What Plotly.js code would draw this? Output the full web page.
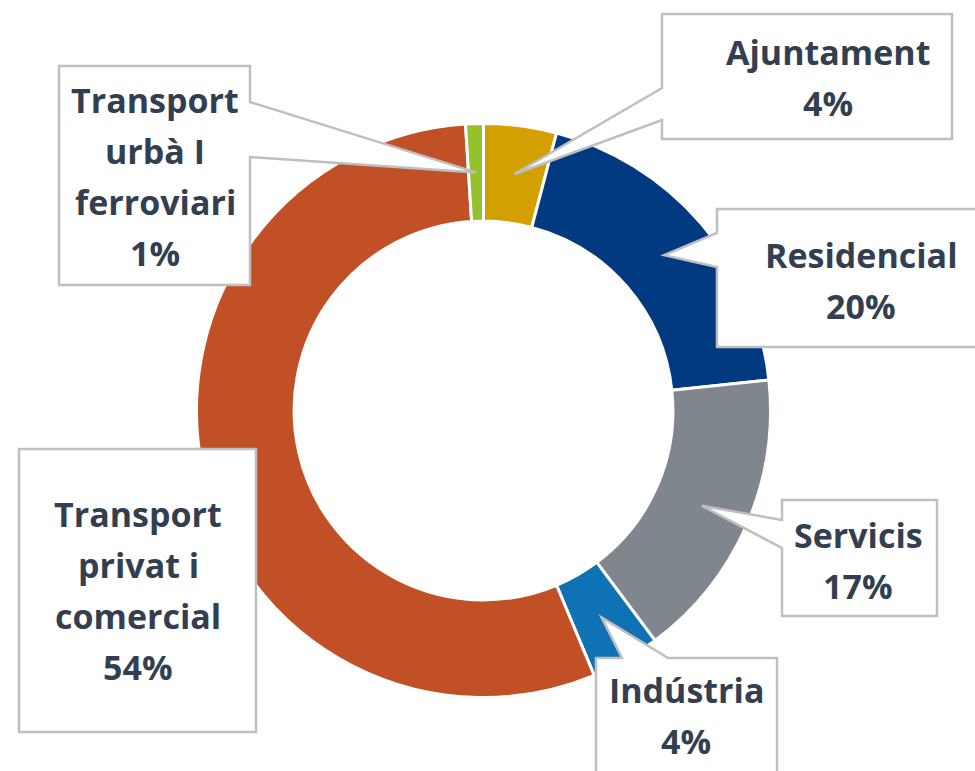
<!DOCTYPE html>
<html>
<head>
<meta charset="utf-8">
<script src="https://cdn.plot.ly/plotly-3.0.1.min.js"></script>
<style>html,body{margin:0;padding:0;background:#fff;}#chart{width:975px;height:771px;}</style>
</head>
<body>
<div id="chart"></div>
<script>
// ---- data ----
const labels = ['Ajuntament', 'Residencial', 'Servicis', 'Indústria', 'Transport privat i comercial', 'Transport urbà I ferroviari'];
const values = [4.1, 19.2, 16.5, 3.9, 55.3, 1.0];
const pctLabels = ['4%', '20%', '17%', '4%', '54%', '1%'];
const labelLines = [['Ajuntament'], ['Residencial'], ['Servicis'], ['Indústria'], ['Transport', 'privat i', 'comercial'], ['Transport', 'urbà I', 'ferroviari']];
const colors = ['#D49F00', '#023A82', '#7F868D', '#0E72B5', '#C25026', '#95C12E'];

// ---- layout geometry (pixels) ----
const W = 975, H = 771;
const cx = 483.5, cy = 410.5, R = 287, hole = 0.66;
// callout boxes: [x0, y0, x1, y1], wedge side and base range, text center x, first line center y
const boxes = [
  {b: [662, 14, 952, 139], side: 'left', base: [88, 120], tx: 828, ty: 52},
  {b: [717, 209, 990, 347], side: 'left', base: [233, 267], tx: 861, ty: 255},
  {b: [782, 500, 937, 616], side: 'left', base: [520, 548], tx: 858, ty: 535},
  {b: [596, 658, 777, 800], side: 'top', base: [622, 668], tx: 686, ty: 690},
  {b: [19, 449, 256, 732], side: 'none', base: null, tx: 138, ty: 514},
  {b: [59, 66, 250, 285], side: 'right', base: [102, 157], tx: 155, ty: 100}
];
const lineGap = 51;

const X = px => px / W;
const Y = py => 1 - py / H;

const total = values.reduce((a, b) => a + b, 0);
let cum = 0;
const tips = values.map(v => {
  const mid = (cum + v / 2) / total * 2 * Math.PI;
  cum += v;
  const r = R * (1 + hole) / 2;
  return [cx + r * Math.sin(mid), cy - r * Math.cos(mid)];
});

const shapes = [];
const annotations = [];
boxes.forEach((bx, i) => {
  const [x0, y0, x1, y1] = bx.b;
  const t = tips[i];
  let pts = [[x0, y0]];
  if (bx.side === 'top') pts.push([bx.base[0], y0], t, [bx.base[1], y0]);
  pts.push([x1, y0]);
  if (bx.side === 'right') pts.push([x1, bx.base[0]], t, [x1, bx.base[1]]);
  pts.push([x1, y1]);
  pts.push([x0, y1]);
  if (bx.side === 'left') pts.push([x0, bx.base[1]], t, [x0, bx.base[0]]);
  const path = pts.map((p, k) => (k ? 'L' : 'M') + X(p[0]).toFixed(5) + ',' + Y(p[1]).toFixed(5)).join(' ') + ' Z';
  shapes.push({type: 'path', xref: 'paper', yref: 'paper', path: path,
    fillcolor: '#FFFFFF', line: {color: '#BFBFBF', width: 2.5}, layer: 'above'});
  const lines = labelLines[i].concat([pctLabels[i]]);
  lines.forEach((ln, k) => {
    annotations.push({xref: 'paper', yref: 'paper', x: X(bx.tx), y: Y(bx.ty + k * lineGap),
      xanchor: 'center', yanchor: 'middle', showarrow: false, text: '<b>' + ln + '</b>',
      font: {family: 'Open Sans, sans-serif', size: 34, color: '#333F50'}});
  });
});

const trace = {
  type: 'pie', labels: labels, values: values, hole: hole, sort: false,
  direction: 'clockwise', rotation: 0,
  marker: {colors: colors, line: {color: '#FFFFFF', width: 3}},
  textinfo: 'none', hoverinfo: 'label+percent', showlegend: false,
  domain: {x: [X(cx - R), X(cx + R)], y: [Y(cy + R), Y(cy - R)]}
};

const layout = {
  width: W, height: H, margin: {l: 0, r: 0, t: 0, b: 0},
  paper_bgcolor: '#FFFFFF', plot_bgcolor: '#FFFFFF', showlegend: false,
  shapes: shapes, annotations: annotations
};

Plotly.newPlot('chart', [trace], layout, {displayModeBar: false, staticPlot: true});
</script>
</body>
</html>
